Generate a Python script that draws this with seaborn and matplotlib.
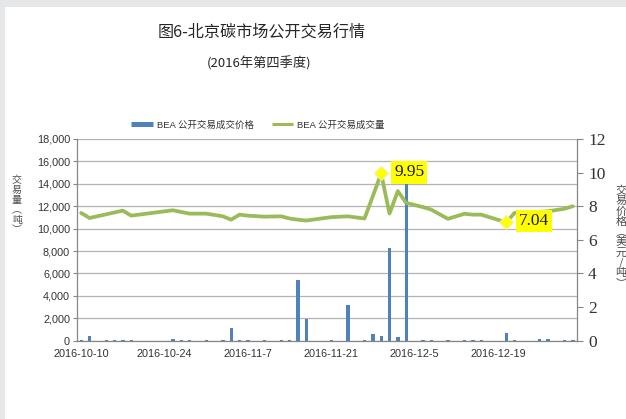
import numpy as np
import pandas as pd
import matplotlib
matplotlib.use("Agg")
import matplotlib.pyplot as plt
from matplotlib.lines import Line2D
from matplotlib.patches import Rectangle
import seaborn as sns

# ── data ──
TITLE    = "图6-北京碳市场公开交易行情"
SUBTITLE = "(2016年第四季度)"
LEG_BAR  = "BEA 公开交易成交价格"
LEG_LINE = "BEA 公开交易成交量"

# trading calendar of Q4 (category axis)
trade_dates = pd.bdate_range("2016-10-10", "2016-12-30")
tick_labels = ["2016-10-10", "2016-10-24", "2016-11-7",
               "2016-11-21", "2016-12-5", "2016-12-19"]

# days (index into calendar) that had a deal
deal_day = [0, 1, 3, 4, 5, 6, 11, 12, 13, 15, 17, 18, 19, 20, 22, 24, 25, 26,
            27, 30, 32, 34, 35, 36, 37, 38, 39, 41, 42, 44, 46, 47, 48, 51, 52,
            55, 56, 58, 59]
volume_t = [60, 380, 50, 50, 50, 50, 130, 50, 50, 50, 50, 1120, 50, 50, 50, 50,
            50, 5450, 1950, 50, 3230, 50, 560, 420, 8250, 300, 16050, 50, 50,
            50, 50, 50, 50, 650, 50, 120, 120, 50, 50]
price_usd = [7.60, 7.30, 7.52, 7.63, 7.74, 7.44, 7.76, 7.66, 7.56, 7.56, 7.40,
             7.20, 7.50, 7.44, 7.38, 7.40, 7.27, 7.20, 7.15, 7.35, 7.40, 7.27,
             8.60, 9.95, 7.56, 8.90, 8.20, 7.95, 7.80, 7.25, 7.55, 7.50, 7.50,
             7.04, 7.60, 7.66, 7.70, 7.85, 8.00]
marked = {36: "9.95", 51: "7.04"}

BLUE   = "#4F81BD"
GREEN  = "#9BBB59"
YELLOW = "#FFFF00"
GRID   = "#B3B3B3"
AXC    = "#868686"

sns.set_theme(style="white")
plt.rcParams["font.family"] = ["Liberation Sans", "Noto Sans CJK SC", "DejaVu Sans"]
plt.rcParams["axes.unicode_minus"] = False

df = pd.DataFrame({"day": deal_day, "volume": volume_t, "price": price_usd})

W, H = 626, 419
fig = plt.figure(figsize=(W / 100, H / 100), dpi=100, facecolor="#E6E7E9")
fig.patches.append(Rectangle((5 / W, 0), 1, 1 - 7 / H, transform=fig.transFigure,
                             facecolor="white", edgecolor="none", zorder=-5))

L, R, T, B = 77, 577, 139, 340.7
ax = fig.add_axes([L / W, 1 - B / H, (R - L) / W, (B - T) / H])
ax.set_facecolor("none")

# ── bars: volume (left axis) ──
sns.barplot(data=df, x="day", y="volume", native_scale=True, color=BLUE,
            width=0.4, saturation=1, edgecolor="none", ax=ax)
ax.set_xlim(-0.5, len(trade_dates) - 0.5)
ax.set_ylim(0, 18000)
ax.set_yticks(np.arange(0, 18001, 2000))
ax.set_yticklabels([f"{v:,}" for v in range(0, 18001, 2000)], fontsize=7.8,
                   color="#333333")
ax.yaxis.grid(True, color=GRID, linewidth=0.9)
ax.set_axisbelow(True)
ax.set_xlabel("")
ax.set_ylabel("")

ax.set_xticks(range(0, 60, 10))
ax.set_xticklabels(tick_labels, fontsize=7.8, color="#333333")
ax.set_xticks(np.arange(-0.5, 60, 11), minor=True)
ax.tick_params(axis="x", which="major", length=0, pad=6)
ax.tick_params(axis="x", which="minor", length=4, color=AXC, width=0.8)
ax.tick_params(axis="y", length=3, color=AXC, width=0.8, pad=2)
for side in ["top", "right"]:
    ax.spines[side].set_visible(False)
for side in ["left", "bottom"]:
    ax.spines[side].set_color(AXC)
    ax.spines[side].set_linewidth(0.9)

# ── line: price (right axis) ──
ax2 = ax.twinx()
sns.lineplot(data=df, x="day", y="price", color=GREEN, linewidth=2.7, ax=ax2)
ax2.set_ylim(0, 12)
ax2.set_xlim(-0.5, len(trade_dates) - 0.5)
ax2.set_yticks(range(0, 13, 2))
ax2.set_yticklabels([str(v) for v in range(0, 13, 2)], fontsize=12.5,
                    family="Liberation Serif", color="#333333")
ax2.tick_params(axis="y", length=4, color=AXC, width=0.8, pad=4)
ax2.set_xlabel("")
ax2.set_ylabel("")
ax2.grid(False)
for side in ["top", "left", "bottom"]:
    ax2.spines[side].set_visible(False)
ax2.spines["right"].set_color(AXC)
ax2.spines["right"].set_linewidth(0.9)

for d, txt in marked.items():
    p = df.loc[df["day"] == d, "price"].iloc[0]
    ax2.plot(d, p, marker="D", markersize=7.5, color=YELLOW,
             markeredgecolor="#F2F2A0", markeredgewidth=0.8, zorder=5)
    ax2.annotate(txt, xy=(d, p), xytext=(28, 1), textcoords="offset pixels",
                 ha="center", va="center", fontsize=12.5,
                 family="Liberation Serif", color="#1A1A1A", zorder=6,
                 bbox=dict(boxstyle="square,pad=0.18", facecolor=YELLOW,
                           edgecolor="none"))

# ── titles, legend, axis titles ──
fig.text(262 / W, 1 - 32 / H, TITLE, ha="center", va="center", fontsize=11.6,
         color="#262626", family=["Noto Sans CJK SC"])
fig.text(259 / W, 1 - 63 / H, SUBTITLE, ha="center", va="center", fontsize=9.5,
         color="#262626", family=["Noto Sans CJK SC"])

handles = [Line2D([], [], color=BLUE, linewidth=3.6, solid_capstyle="butt"),
           Line2D([], [], color=GREEN, linewidth=2.2, solid_capstyle="butt")]
fig.legend(handles, [LEG_BAR, LEG_LINE], loc="center",
           bbox_to_anchor=(258 / W, 1 - 125 / H), ncol=2, frameon=False,
           fontsize=6.8, handlelength=2.3, handletextpad=0.4,
           columnspacing=1.9, labelcolor="#333333")

fig.text(17 / W, 1 - 205 / H, "交\n易\n量\n︵\n吨\n︶", ha="center",
         va="center", fontsize=7.2, linespacing=1.0, color="#4D4D4D",
         family=["Noto Sans CJK SC"])
fig.text(621 / W, 1 - 237 / H, "交\n易\n价\n格\n︵\n美\n元\n/\n吨\n︶",
         ha="center", va="center", fontsize=8, linespacing=1.02,
         color="#4D4D4D", family=["Noto Sans CJK SC"])

fig.savefig("out.png", dpi=100, facecolor=fig.get_facecolor())
